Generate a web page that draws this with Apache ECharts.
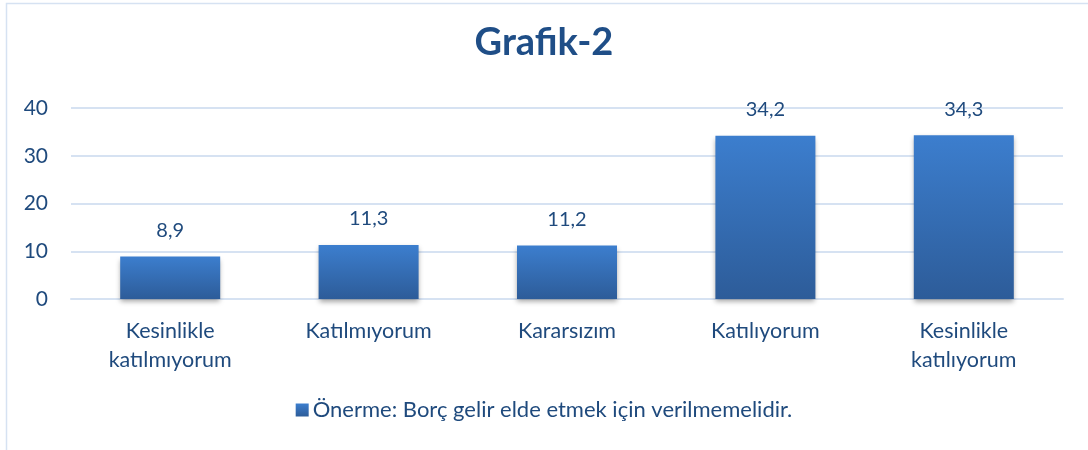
<!DOCTYPE html>
<html>
<head>
<meta charset="utf-8">
<script src="https://cdn.jsdelivr.net/npm/echarts@6/dist/echarts.min.js"></script>
<style>
html,body{margin:0;padding:0;background:#fff;}
#chart{width:1088px;height:450px;}
</style>
</head>
<body>
<div id="chart"></div>
<script>
const titleText = "Grafik-2";
const categories = ["Kesinlikle\nkatılmıyorum", "Katılmıyorum", "Kararsızım", "Katılıyorum", "Kesinlikle\nkatılıyorum"];
const seriesName = "Önerme: Borç gelir elde etmek için verilmemelidir.";
const values = [8.9, 11.3, 11.2, 34.2, 34.3];
const yTicks = { min: 0, max: 40, interval: 10 };

const textColor = "#1F4A7D";
const font = "Lato";
const barGrad = new echarts.graphic.LinearGradient(0, 0, 0, 1, [
  { offset: 0, color: "#3C7ECE" },
  { offset: 1, color: "#2D5C99" }
]);

const chart = echarts.init(document.getElementById("chart"), null, { renderer: "canvas" });
chart.setOption({
  backgroundColor: "#ffffff",
  animation: false,
  graphic: [{
    type: "rect",
    shape: { x: 6.5, y: 3.5, width: 1200, height: 600 },
    style: { fill: "none", stroke: "#D6E2F2", lineWidth: 1.5 },
    silent: true
  }],
  title: {
    text: titleText,
    left: "center",
    top: 19,
    textStyle: { color: "#1F4E87", fontFamily: font, fontWeight: "bold", fontSize: 38 }
  },
  grid: { left: 71, right: 25, top: 108, bottom: 151, containLabel: false },
  legend: {
    bottom: 24,
    left: "center",
    itemWidth: 13,
    itemHeight: 13,
    itemGap: 4,
    icon: "rect",
    textStyle: { color: textColor, fontFamily: font, fontSize: 22, padding: [0, 0, 0, -1] },
    data: [seriesName]
  },
  xAxis: {
    type: "category",
    data: categories,
    axisLine: { show: true, lineStyle: { color: "#D6E2F2", width: 2 } },
    axisTick: { show: false },
    axisLabel: { color: textColor, fontFamily: font, fontSize: 21.5, lineHeight: 29, margin: 18 }
  },
  yAxis: {
    type: "value",
    min: yTicks.min,
    max: yTicks.max,
    interval: yTicks.interval,
    axisLine: { show: false },
    axisTick: { show: false },
    splitLine: { lineStyle: { color: "#D6E2F2", width: 2 } },
    axisLabel: { color: textColor, fontFamily: font, fontSize: 21, margin: 23 }
  },
  series: [{
    name: seriesName,
    type: "bar",
    data: values,
    barWidth: 100,
    itemStyle: {
      color: barGrad,
      shadowColor: "rgba(0,0,0,0.35)",
      shadowBlur: 5,
      shadowOffsetY: 3
    },
    label: {
      show: true,
      position: "top",
      distance: 16,
      color: textColor,
      fontFamily: font,
      fontSize: 20,
      formatter: p => String(p.value).replace(".", ",")
    }
  }]
});
</script>
</body>
</html>
